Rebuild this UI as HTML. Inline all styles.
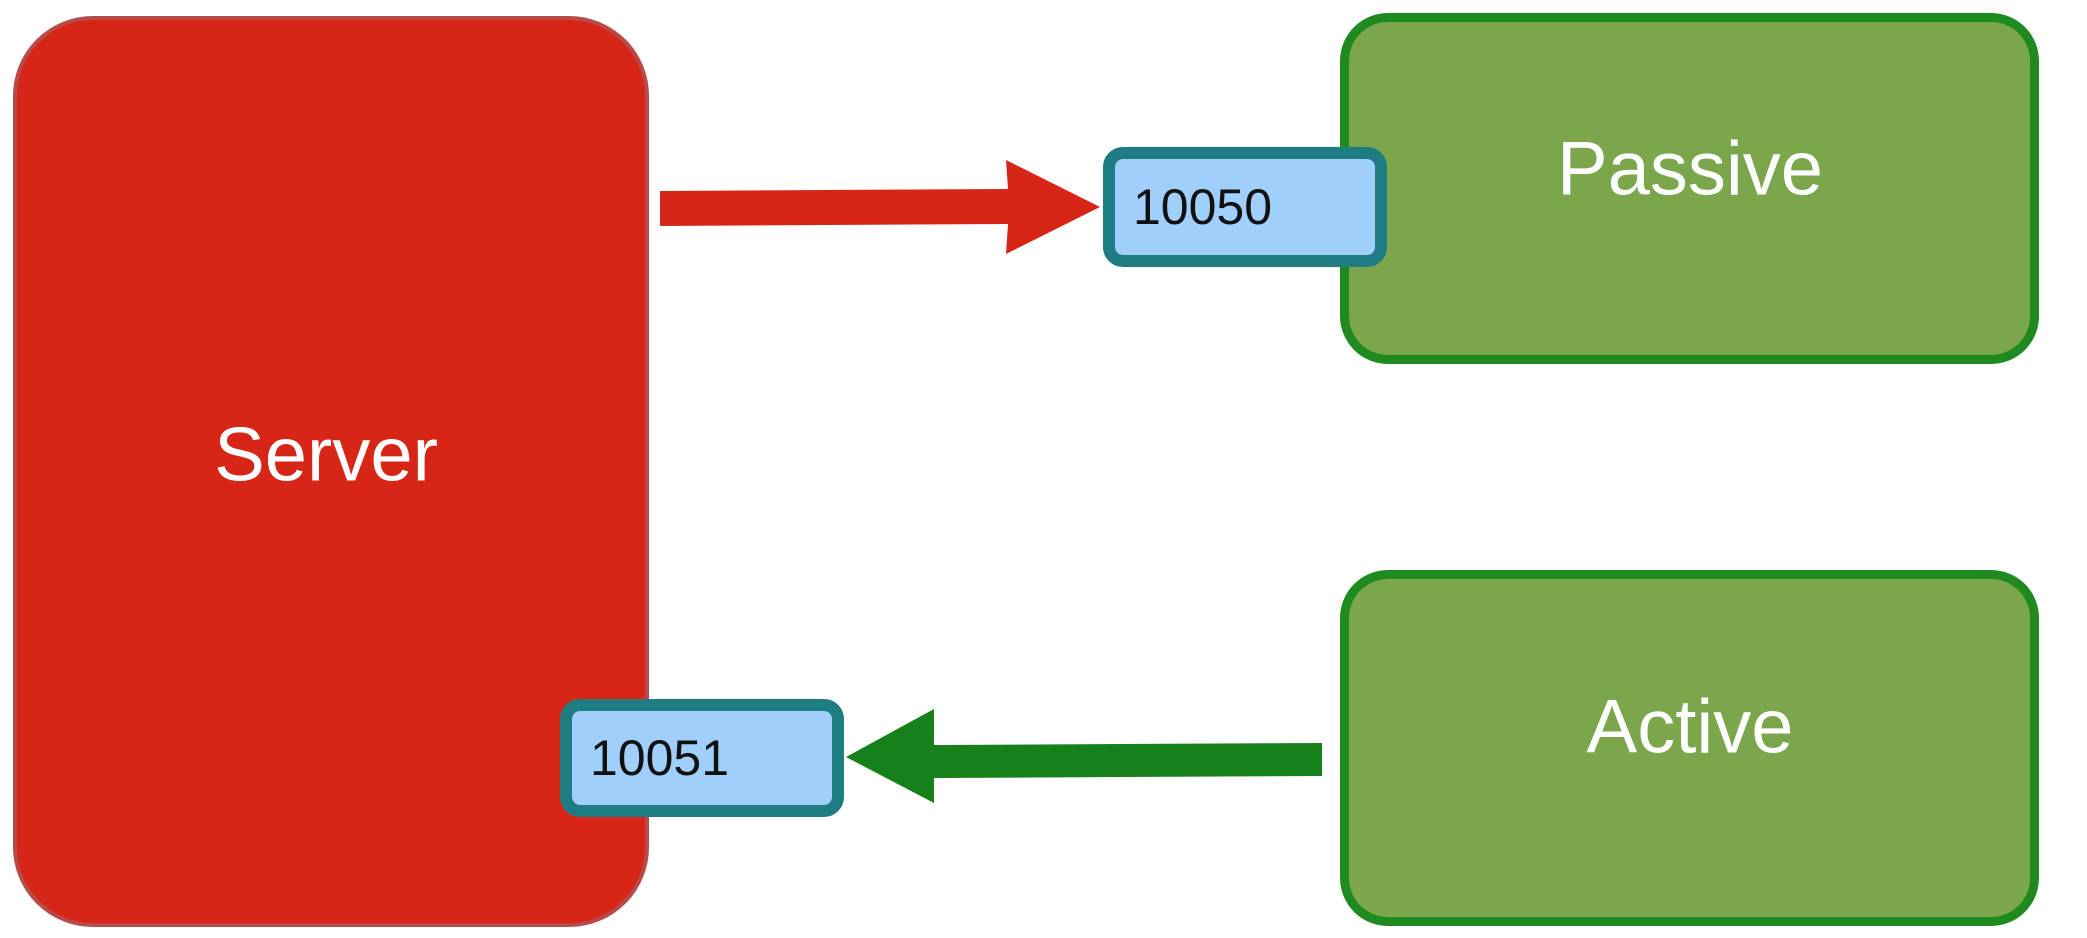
<!DOCTYPE html>
<html><head><style>
body{margin:0;width:2087px;height:938px;background:#fff;position:relative;overflow:hidden;font-family:"Liberation Sans","DejaVu Sans",sans-serif}
.b{position:absolute;box-sizing:border-box}
.t{position:absolute;color:#fff;font-size:76px;transform:translate(-50%,-50%);white-space:nowrap}
.p{position:absolute;box-sizing:border-box;background:#9fcffa;border:12px solid #1d7d82;border-radius:20px;color:#111;font-size:50px;padding-left:18px;display:flex;align-items:center}
</style></head><body>
<div class="b" style="left:13px;top:16px;width:636px;height:911px;background:#d72617;border:4px solid #b84a4a;border-radius:80px"></div>
<div class="t" style="left:326px;top:455px">Server</div>
<div class="b" style="left:1340px;top:13px;width:699px;height:351px;background:#7ba64c;border:9px solid #1f8a1f;border-radius:48px"></div>
<div class="t" style="left:1690px;top:169px">Passive</div>
<div class="b" style="left:1340px;top:570px;width:699px;height:356px;background:#7ba64c;border:9px solid #1f8a1f;border-radius:48px"></div>
<div class="t" style="left:1690px;top:727px">Active</div>
<svg style="position:absolute;left:0;top:0" width="2087" height="938">
<polygon points="660,191 1008,189 1006,160 1100,207 1006,254 1008,224 660,226" fill="#d72617"/>
<polygon points="1322,743 934,745 934,709 846,757 934,803 934,778 1322,776" fill="#16801a"/>
</svg>
<div class="p" style="left:1103px;top:147px;width:284px;height:120px">10050</div>
<div class="p" style="left:560px;top:699px;width:284px;height:118px">10051</div>
</body></html>
